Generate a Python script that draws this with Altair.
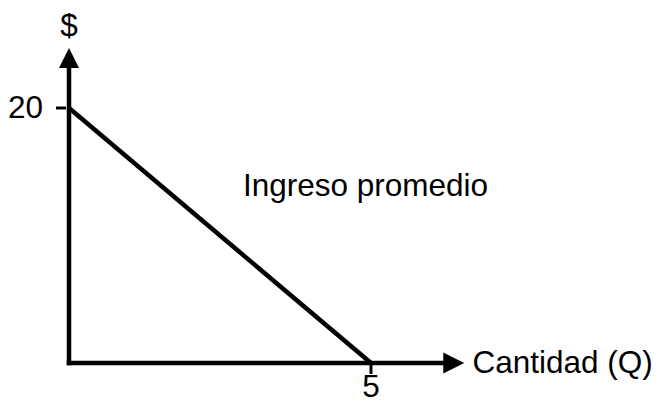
import altair as alt
import pandas as pd

# --- data ---
quantity = [0, 5]          # Cantidad (Q)
avg_revenue = [20, 0]      # Ingreso promedio ($)
y_tick_values = [20]
y_tick_labels = ["20"]
x_tick_values = [5]
x_tick_labels = ["5"]
x_axis_title = "Cantidad (Q)"
y_axis_title = "$"
curve_label = "Ingreso promedio"

FONT = "Liberation Sans"
FS = 31.5
BLACK = "#000000"

xs = alt.Scale(domain=[0, 5], range=[61, 363], nice=False, zero=False)
ys = alt.Scale(domain=[0, 20], range=[355, 100], nice=False, zero=False)

def X(f):
    return alt.X(f, type="quantitative", scale=xs, axis=None)

def Y(f):
    return alt.Y(f, type="quantitative", scale=ys, axis=None)

# demand / average revenue line
line_df = pd.DataFrame({"q": quantity, "p": avg_revenue})
line = alt.Chart(line_df).mark_line(color=BLACK, strokeWidth=4.5).encode(
    x=X("q"), y=Y("p")
)

# axis lines
y_top = 23.3
x_right = 6.2
axes_df = pd.DataFrame({
    "x": [0, 0], "x2": [0, x_right], "y": [0, 0], "y2": [y_top, 0]
})
axes = alt.Chart(axes_df).mark_rule(color=BLACK, strokeWidth=4.5, strokeCap="square").encode(
    x=X("x"), x2="x2", y=Y("y"), y2="y2"
)

# arrowheads
up_df = pd.DataFrame({"x": [0], "y": [23.92]})
up = alt.Chart(up_df).mark_point(
    shape="M0,-1L1,1L-1,1Z", filled=True, size=400, color=BLACK, opacity=1, strokeWidth=0
).encode(x=X("x"), y=Y("y"))
right_df = pd.DataFrame({"x": [6.37], "y": [0]})
right = alt.Chart(right_df).mark_point(
    shape="M1,0L-1,-1L-1,1Z", filled=True, size=441, color=BLACK, opacity=1, strokeWidth=0
).encode(x=X("x"), y=Y("y"))

# tick marks
ytick_df = pd.DataFrame({"x": [-0.215], "x2": [-0.05], "y": y_tick_values})
ytick = alt.Chart(ytick_df).mark_rule(color=BLACK, strokeWidth=3).encode(
    x=X("x"), x2="x2", y=Y("y")
)
xtick_df = pd.DataFrame({"x": x_tick_values, "y": [0], "y2": [-0.86]})
xtick = alt.Chart(xtick_df).mark_rule(color=BLACK, strokeWidth=3).encode(
    x=X("x"), y=Y("y"), y2="y2"
)

# tick labels
ylab_df = pd.DataFrame({"x": [-0.43], "y": y_tick_values, "t": y_tick_labels})
ylab = alt.Chart(ylab_df).mark_text(
    font=FONT, fontSize=FS, align="right", baseline="middle", color=BLACK, dy=1
).encode(x=X("x"), y=Y("y"), text="t:N")
xlab_df = pd.DataFrame({"x": x_tick_values, "y": [-1.95], "t": x_tick_labels})
xlab = alt.Chart(xlab_df).mark_text(
    font=FONT, fontSize=FS, align="center", baseline="middle", color=BLACK
).encode(x=X("x"), y=Y("y"), text="t:N")

# titles
xt_df = pd.DataFrame({"x": [6.68], "y": [0], "t": [x_axis_title]})
xt = alt.Chart(xt_df).mark_text(
    font=FONT, fontSize=FS, align="left", baseline="middle", color=BLACK, dy=1
).encode(x=X("x"), y=Y("y"), text="t:N")
yt_df = pd.DataFrame({"x": [0], "y": [26.35], "t": [y_axis_title]})
yt = alt.Chart(yt_df).mark_text(
    font=FONT, fontSize=FS, align="center", baseline="middle", color=BLACK
).encode(x=X("x"), y=Y("y"), text="t:N")

curve_df = pd.DataFrame({"x": [2.88], "y": [13.1], "t": [curve_label]})
ct = alt.Chart(curve_df).mark_text(
    font=FONT, fontSize=FS, align="left", baseline="alphabetic", color=BLACK
).encode(x=X("x"), y=Y("y"), text="t:N")

chart = alt.layer(axes, line, up, right, ytick, xtick, ylab, xlab, xt, yt, ct).properties(
    width=644, height=394,
    autosize=alt.AutoSizeParams(type="none"),
    padding=0,
    background="white",
).configure_view(stroke=None)

chart.save("out.html", embed_options={"renderer": "svg", "actions": False})
